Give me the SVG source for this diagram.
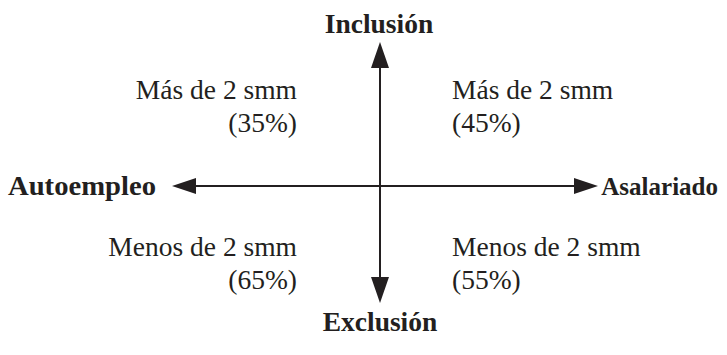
<svg xmlns="http://www.w3.org/2000/svg" width="727" height="355" viewBox="0 0 727 355">
<style>
.ax{stroke:#231f20;stroke-width:2;fill:none}
.h{fill:#231f20}
.t{font-family:'Liberation Serif','DejaVu Serif',serif;font-size:27.5px;fill:#231f20}
.b{font-family:'Liberation Serif','DejaVu Serif',serif;font-size:27.5px;font-weight:bold;fill:#231f20}
</style>
<rect width="727" height="355" fill="#fff"/>
<g id="connectors">
<line class="ax" x1="380" y1="62" x2="380" y2="282"/>
<line class="ax" x1="190" y1="186" x2="580" y2="186"/>
<polygon class="h" points="380,42 371,68 389,68"/>
<polygon class="h" points="380,303 371,277 389,277"/>
<polygon class="h" points="172,186 196,178 196,194"/>
<polygon class="h" points="598,186 574,178 574,194"/>
</g>
<g id="inclusion"><text class="b" x="379" y="33" text-anchor="middle">Inclusión</text></g>
<g id="exclusion"><text class="b" x="380" y="331" text-anchor="middle">Exclusión</text></g>
<g id="autoempleo"><text class="b" x="8" y="195" textLength="148" lengthAdjust="spacingAndGlyphs">Autoempleo</text></g>
<g id="asalariado"><text class="b" x="718" y="195" text-anchor="end" style="font-size:25px">Asalariado</text></g>
<g id="q1"><text class="t" x="297" y="99" text-anchor="end">Más de 2 smm</text><text class="t" x="297" y="132" text-anchor="end">(35%)</text></g>
<g id="q2"><text class="t" x="452" y="99">Más de 2 smm</text><text class="t" x="452" y="132">(45%)</text></g>
<g id="q3"><text class="t" x="297" y="256" text-anchor="end">Menos de 2 smm</text><text class="t" x="297" y="289" text-anchor="end">(65%)</text></g>
<g id="q4"><text class="t" x="452" y="256">Menos de 2 smm</text><text class="t" x="452" y="289">(55%)</text></g>
</svg>
